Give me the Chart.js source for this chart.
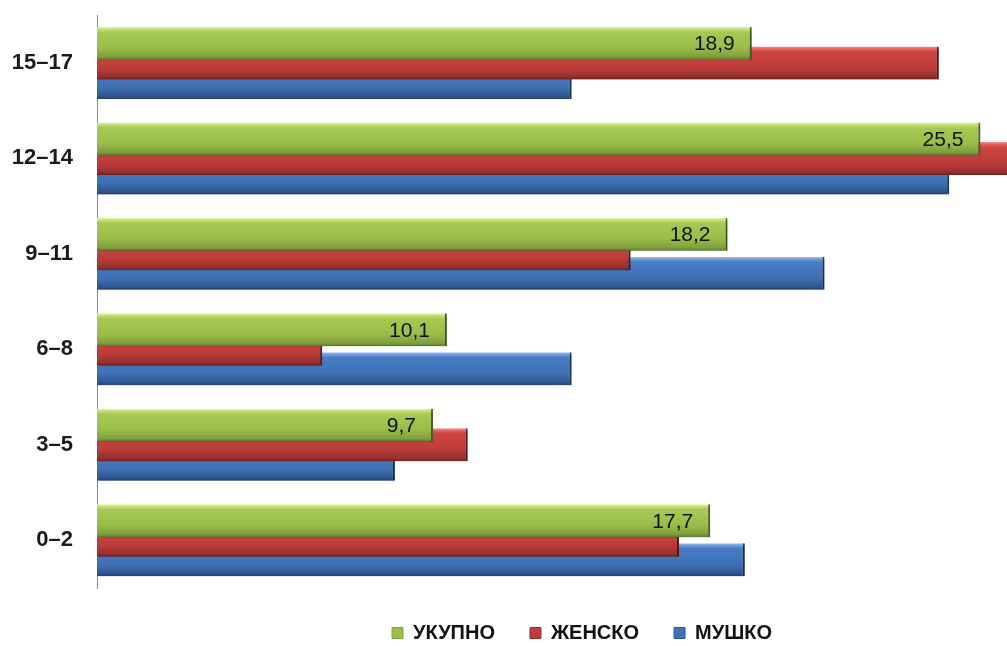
<!DOCTYPE html>
<html>
<head>
<meta charset="utf-8">
<script src="https://cdn.jsdelivr.net/npm/chart.js@4/dist/chart.umd.min.js"></script>
<style>
  html, body { margin: 0; padding: 0; background: #ffffff; overflow: hidden; }
  /* plot runs past the right edge, so the longest bar is cut off */
  #wrap { width: 1067px; height: 646px; position: relative; }
</style>
</head>
<body>
<div id="wrap"><canvas id="chart"></canvas></div>
<script>
// Age groups, top to bottom
const ageGroups = ['15–17', '12–14', '9–11', '6–8', '3–5', '0–2'];

// Values per group (%)
const totalValues  = [18.9, 25.5, 18.2, 10.1, 9.7, 17.7];  // УКУПНО
const femaleValues = [24.3, 26.4, 15.4, 6.5, 10.7, 16.8];  // ЖЕНСКО
const maleValues   = [13.7, 24.6, 21.0, 13.7, 8.6, 18.7];  // МУШКО

const seriesNames = ['УКУПНО', 'ЖЕНСКО', 'МУШКО'];

// Bar layout: bars overlap so each one looks like a bevelled 3D slab
const CAT_PCT = 0.613;
const BAR_PCT = 1.69;

// Colour ramps: highlight, light, body, lower body, shade, edge
const palettes = [
  ['#e4fc9e', '#c6e474', '#a6ca55', '#9abd4b', '#80a03c', '#5a7330'],
  ['#f79292', '#e46868', '#cc4442', '#bd3d3a', '#98312e', '#6e2220'],
  ['#a0c6f4', '#72a0de', '#477cc3', '#3f72b6', '#305892', '#22406c']
];

function barFill(p) {
  return function (c) {
    const chart = c.chart;
    const y = chart.scales && chart.scales.y;
    if (!y || c.dataIndex === undefined || !chart.chartArea) return p[2];
    const step = Math.abs(y.getPixelForValue(1) - y.getPixelForValue(0));
    const chunk = step * CAT_PCT / 3;
    const center = y.getPixelForValue(c.dataIndex) - chunk * 1.5 + chunk * (c.datasetIndex + 0.5);
    const h = chunk * BAR_PCT;
    const top = center - h / 2;
    const g = chart.ctx.createLinearGradient(0, top, 0, top + h);
    g.addColorStop(0, p[0]);
    g.addColorStop(0.06, p[1]);
    g.addColorStop(0.16, p[2]);
    g.addColorStop(0.62, p[3]);
    g.addColorStop(0.9, p[4]);
    g.addColorStop(1, p[5]);
    return g;
  };
}

function makeDataset(i, values) {
  return {
    label: seriesNames[i],
    data: values,
    backgroundColor: barFill(palettes[i]),
    borderColor: palettes[i][5],
    borderWidth: { top: 0, left: 0, bottom: 0, right: 2 },
    borderSkipped: 'start',
    categoryPercentage: CAT_PCT,
    barPercentage: BAR_PCT
  };
}

// Soft drop shadow under the bars
const barShadow = {
  id: 'barShadow',
  beforeDatasetsDraw(chart) {
    const ctx = chart.ctx;
    ctx.save();
    ctx.shadowColor = 'rgba(0,0,0,0.35)';
    ctx.shadowBlur = 3;
    ctx.shadowOffsetX = 2;
    ctx.shadowOffsetY = 2;
  },
  afterDatasetsDraw(chart) {
    chart.ctx.restore();
  }
};

// Value labels inside the end of the УКУПНО bars
const totalLabels = {
  id: 'totalLabels',
  afterDatasetsDraw(chart) {
    const ctx = chart.ctx;
    const meta = chart.getDatasetMeta(0);
    ctx.save();
    ctx.font = '21px "Liberation Sans", Arial, sans-serif';
    ctx.fillStyle = '#111111';
    ctx.textAlign = 'right';
    ctx.textBaseline = 'middle';
    meta.data.forEach((bar, i) => {
      const txt = totalValues[i].toFixed(1).replace('.', ',');
      ctx.fillText(txt, bar.x - 17, bar.y + 1);
    });
    ctx.restore();
  }
};

new Chart(document.getElementById('chart'), {
  type: 'bar',
  data: {
    labels: ageGroups,
    datasets: [
      makeDataset(0, totalValues),
      makeDataset(1, femaleValues),
      makeDataset(2, maleValues)
    ]
  },
  options: {
    indexAxis: 'y',
    responsive: true,
    maintainAspectRatio: false,
    animation: false,
    layout: { padding: { top: 15, right: 0, bottom: 0, left: 0 } },
    scales: {
      x: {
        display: false,
        min: 0,
        max: 28
      },
      y: {
        grid: { display: false, drawTicks: true, tickLength: 22 },
        border: { display: true, color: '#8a8a8a', width: 1 },
        ticks: {
          color: '#1a1a1a',
          padding: 2,
          font: { family: '"Liberation Sans", Arial, sans-serif', size: 22, weight: 'bold' }
        },
        afterFit(scale) { scale.width = 97; }
      }
    },
    plugins: {
      legend: {
        position: 'bottom',
        fullSize: false,
        maxHeight: 58,
        labels: {
          boxWidth: 11,
          boxHeight: 11,
          padding: 35,
          color: '#111111',
          font: { family: '"Liberation Sans", Arial, sans-serif', size: 20, weight: 'bold' },
          generateLabels(chart) {
            const items = Chart.defaults.plugins.legend.labels.generateLabels(chart);
            items.forEach((it, i) => {
              it.fillStyle = palettes[i][3];
              it.strokeStyle = palettes[i][4];
              it.lineWidth = 1;
            });
            return items;
          }
        }
      },
      tooltip: { enabled: false }
    }
  },
  plugins: [barShadow, totalLabels]
});
</script>
</body>
</html>
